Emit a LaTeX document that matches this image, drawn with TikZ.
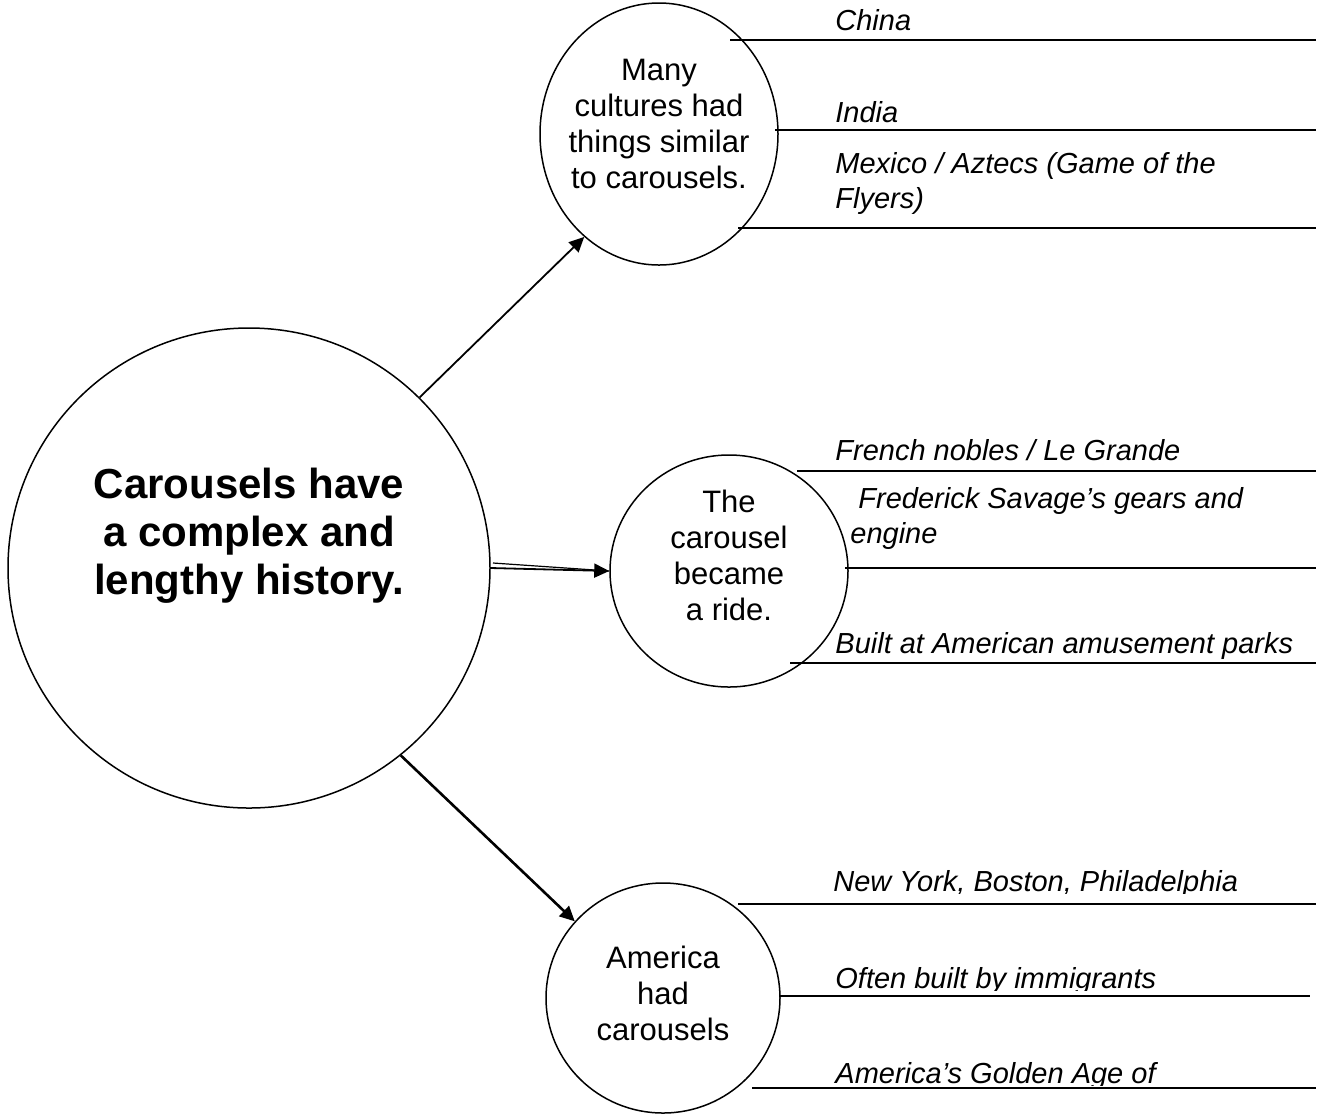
\documentclass[tikz,border=0pt]{standalone}
\usepackage{fontspec}
\setmainfont{Liberation Sans}
\usetikzlibrary{shapes.geometric,arrows.meta}

\tikzset{
  bubble/.style={ellipse, draw=black, line width=0.75pt, inner sep=0pt},
  mainfont/.style={align=center, font=\fontsize{21}{24}\selectfont\bfseries},
  topic/.style={align=center, font=\fontsize{15.5}{18}\selectfont},
  detail/.style={anchor=base west, inner sep=0pt, align=left, font=\fontsize{14.5}{17.5}\selectfont\itshape},
  rule/.style={line width=1pt},
  link/.style={line width=0.9pt, -{Triangle[length=7.5pt,width=7pt]}}
}

\begin{document}
\begin{tikzpicture}[x=0.5pt, y=-0.5pt]
\useasboundingbox (0,0) rectangle (1334,1116);

% the main idea
\node [bubble, minimum width=241pt, minimum height=240pt] (main) at (249,568) {};
\node [mainfont] (mainText) at (249,536) {Carousels have\\ a complex and\\ lengthy history.};

% the three topics
\node [bubble, minimum width=119pt, minimum height=131pt] (cultures) at (659,134) {};
\node [topic] (culturesText) at (659,124) {Many\\ cultures had\\ things similar\\ to carousels.};

\node [bubble, minimum width=119pt, minimum height=116pt] (ride) at (729,571) {};
\node [topic] (rideText) at (729,555) {The\\ carousel\\ became\\ a ride.};

\node [bubble, minimum width=117pt, minimum height=115pt] (america) at (663,998) {};
\node [topic] (americaText) at (663,993) {America\\ had\\ carousels};

% arrows
\draw [link] (main.45) -- (cultures.234);
\coordinate (ghost) at (493,563);
\draw [line width=0.6pt] (ghost) -- (ride.west);
\draw [link] (main.east) -- (ride.west);
\draw [link, line width=1.3pt] (main.-51) -- (america.139);

% details of the first topic
\node [detail] (china) at (835,30) {China};
\draw [rule] (730,40) -- (1316,40);
\node [detail] (india) at (835,122) {India};
\draw [rule] (775,130) -- (1316,130);
\node [detail] (mexico) at (835,208) {Mexico / Aztecs (Game of the\\Flyers)};
\draw [rule] (738,228) -- (1316,228);

% details of the second topic
\node [detail] (nobles) at (835,460) {French nobles / Le Grande};
\draw [rule] (797,471) -- (1316,471);
\node [detail] (savage) at (850,543) {\ Frederick Savage’s gears and\\engine};
\draw [rule] (845,568) -- (1316,568);
\node [detail] (parks) at (835,653) {Built at American amusement parks};
\draw [rule] (790,663) -- (1316,663);

% details of the third topic
\begin{scope}
  \clip (800,850) rectangle (1334,893);
  \node [detail] (cities) at (833,891) {New York, Boston, Philadelphia};
\end{scope}
\draw [rule] (738,904) -- (1316,904);
\begin{scope}
  \clip (800,950) rectangle (1334,990);
  \node [detail] (immigrants) at (835,988) {Often built by immigrants};
\end{scope}
\draw [rule] (780,996) -- (1310,996);
\begin{scope}
  \clip (800,1040) rectangle (1334,1085);
  \node [detail] (golden) at (835,1083) {America’s Golden Age of};
\end{scope}
\draw [rule] (752,1088) -- (1316,1088);
\end{tikzpicture}
\end{document}
